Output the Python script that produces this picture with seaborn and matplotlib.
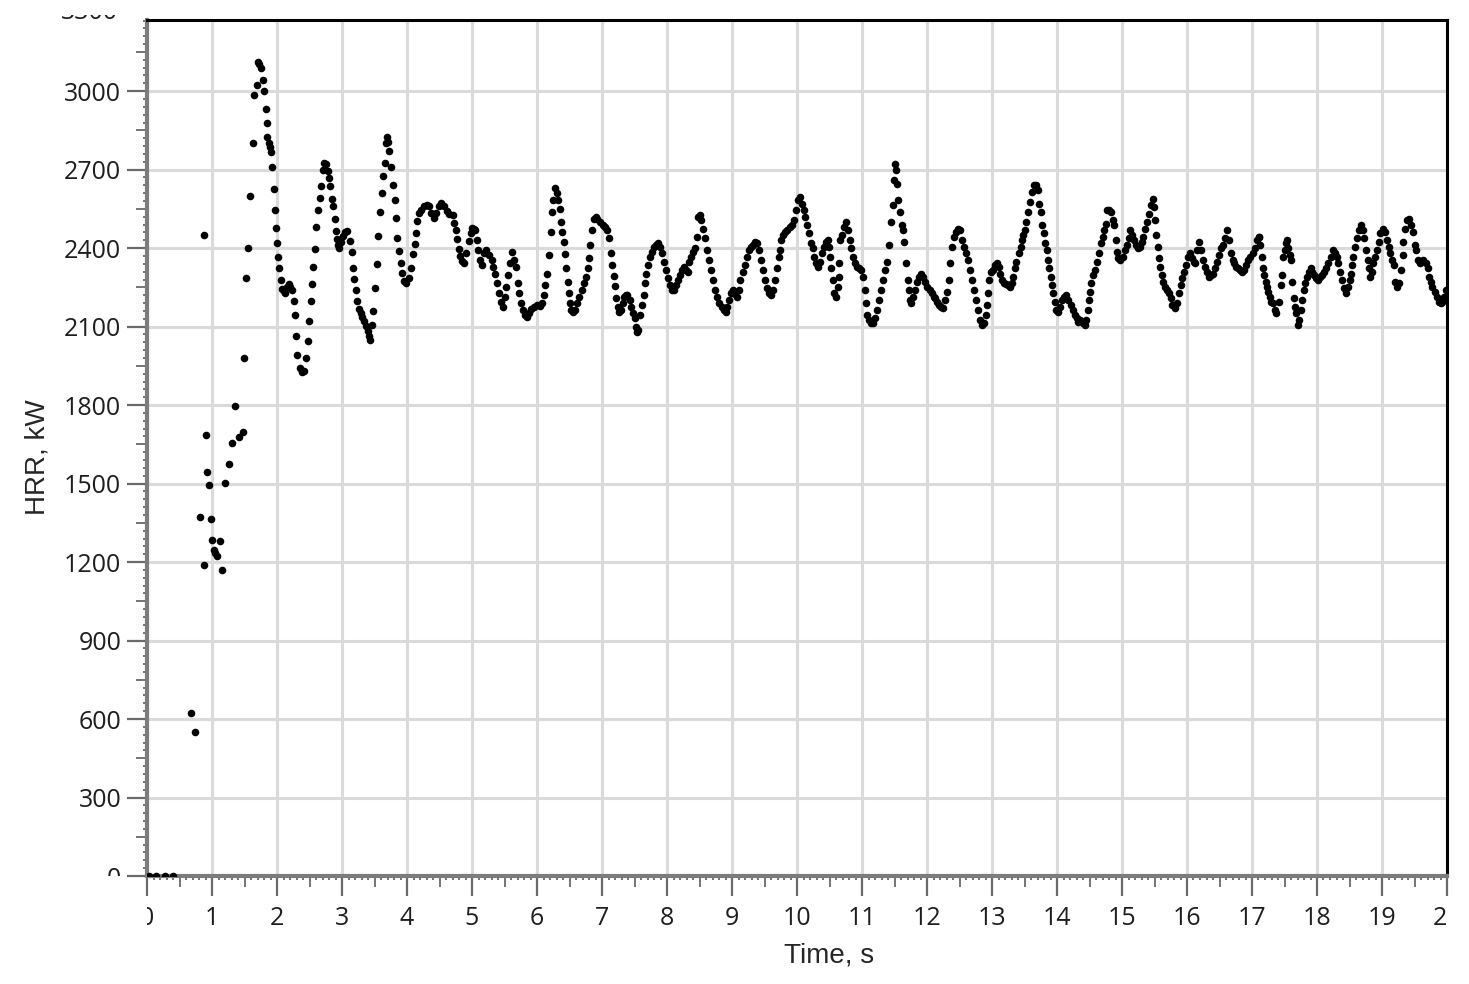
import matplotlib
matplotlib.use("Agg")
import pandas as pd
import matplotlib.pyplot as plt
import seaborn as sns
from matplotlib.ticker import MultipleLocator, FixedLocator
from matplotlib.transforms import Bbox, TransformedBbox, blended_transform_factory

# HRR readings (kW) against time (s), in segments
t_ignition = [0.03, 0.14, 0.27, 0.40, 0.67, 0.74, 0.81,
              0.88, 0.88, 0.91, 0.93, 0.96, 0.98, 1.00, 1.03, 1.05, 1.08,
              1.13, 1.16, 1.20, 1.26, 1.31, 1.36, 1.42, 1.47]
hrr_ignition = [0, 0, 0, 0, 624, 552, 1372,
                2452, 1189, 1686, 1543, 1495, 1363, 1286, 1245, 1235, 1225,
                1282, 1170, 1503, 1573, 1654, 1797, 1677, 1697]

t_peak = [1.49, 1.52, 1.55, 1.59, 1.63, 1.65, 1.69, 1.71, 1.73, 1.75,
          1.78, 1.80, 1.83, 1.84, 1.85, 1.87, 1.89, 1.91, 1.93, 1.95,
          1.97, 1.98, 2.00, 2.02, 2.03, 2.06, 2.08, 2.10, 2.13, 2.15,
          2.18, 2.20, 2.23, 2.26, 2.27, 2.29, 2.31, 2.35, 2.38, 2.41,
          2.44, 2.47, 2.49, 2.52, 2.54, 2.56, 2.58, 2.60, 2.63, 2.66,
          2.68, 2.71, 2.73, 2.76, 2.78, 2.80, 2.82, 2.84, 2.86, 2.89,
          2.91, 2.92, 2.94, 2.96, 2.98, 3.01, 3.05, 3.08, 3.12, 3.15,
          3.17, 3.19, 3.21, 3.23, 3.26, 3.29, 3.31, 3.34, 3.37, 3.40,
          3.42, 3.43, 3.46, 3.48, 3.51, 3.54, 3.56, 3.58, 3.61, 3.63,
          3.66, 3.68, 3.69, 3.71, 3.73, 3.75, 3.79, 3.81, 3.83, 3.85,
          3.88, 3.90, 3.93, 3.95, 3.99, 4.03, 4.06, 4.09, 4.12, 4.14,
          4.16, 4.19, 4.22, 4.26, 4.30, 4.34, 4.37, 4.41, 4.45, 4.49,
          4.53, 4.57, 4.61, 4.65, 4.70, 4.72, 4.75, 4.77, 4.80, 4.82,
          4.85, 4.87, 4.91, 4.95, 4.98, 5.00]
hrr_peak = [1980, 2285, 2401, 2598, 2801, 2985, 3025, 3113, 3105, 3090,
            3042, 3000, 2932, 2877, 2824, 2803, 2788, 2769, 2712, 2626,
            2545, 2476, 2418, 2367, 2324, 2278, 2245, 2235, 2230, 2250,
            2262, 2250, 2240, 2198, 2144, 2065, 1992, 1941, 1926, 1932,
            1979, 2046, 2120, 2198, 2262, 2329, 2397, 2481, 2545, 2592,
            2636, 2697, 2725, 2722, 2693, 2668, 2638, 2589, 2560, 2512,
            2465, 2433, 2411, 2401, 2423, 2448, 2461, 2465, 2427, 2386,
            2325, 2281, 2240, 2198, 2167, 2152, 2136, 2123, 2104, 2085,
            2065, 2050, 2106, 2160, 2248, 2338, 2446, 2537, 2611, 2674,
            2727, 2801, 2824, 2807, 2773, 2712, 2642, 2585, 2515, 2439,
            2389, 2344, 2306, 2274, 2268, 2287, 2325, 2376, 2414, 2458,
            2503, 2534, 2547, 2560, 2566, 2560, 2534, 2515, 2534, 2560,
            2572, 2560, 2541, 2532, 2528, 2496, 2471, 2433, 2395, 2370,
            2351, 2345, 2382, 2427, 2458, 2477]

t_mid = [5.03, 5.05, 5.07, 5.09, 5.12, 5.16, 5.19, 5.22, 5.26, 5.30,
         5.33, 5.36, 5.39, 5.42, 5.45, 5.47, 5.51, 5.53, 5.55, 5.58,
         5.61, 5.64, 5.67, 5.70, 5.73, 5.76, 5.79, 5.82, 5.85, 5.88,
         5.91, 5.95, 6.00, 6.04, 6.07, 6.10, 6.12, 6.15, 6.18, 6.21,
         6.23, 6.25, 6.27, 6.30, 6.33, 6.35, 6.37, 6.39, 6.41, 6.43,
         6.45, 6.47, 6.49, 6.51, 6.53, 6.56, 6.59, 6.62, 6.65, 6.69,
         6.72, 6.75, 6.78, 6.80, 6.82, 6.84, 6.87, 6.90, 6.93, 6.97,
         7.01, 7.04, 7.08, 7.11, 7.14, 7.16, 7.18, 7.20, 7.22, 7.24,
         7.26, 7.29, 7.32, 7.34, 7.37, 7.39, 7.43, 7.45, 7.47, 7.50,
         7.52, 7.54, 7.56, 7.59, 7.62, 7.64, 7.66, 7.68, 7.71, 7.74,
         7.77, 7.80, 7.83, 7.86, 7.89, 7.92, 7.95, 7.98, 8.01, 8.04,
         8.07, 8.11, 8.14, 8.17, 8.20, 8.23, 8.26, 8.29, 8.32, 8.34,
         8.37, 8.40, 8.43, 8.46, 8.48, 8.51, 8.53, 8.56, 8.59, 8.62,
         8.65, 8.68, 8.71, 8.74, 8.77, 8.80, 8.84, 8.87, 8.90, 8.93,
         8.96, 8.99]
hrr_mid = [2475, 2468, 2430, 2392, 2354, 2335, 2380, 2392, 2373, 2354,
           2329, 2303, 2265, 2227, 2195, 2176, 2214, 2253, 2297, 2342,
           2386, 2354, 2329, 2265, 2227, 2189, 2164, 2145, 2138, 2151,
           2166, 2176, 2183, 2179, 2189, 2221, 2259, 2303, 2373, 2462,
           2539, 2583, 2631, 2611, 2583, 2551, 2500, 2462, 2424, 2377,
           2323, 2272, 2227, 2189, 2164, 2157, 2164, 2189, 2214, 2240,
           2265, 2291, 2323, 2361, 2411, 2469, 2513, 2520, 2513, 2500,
           2488, 2481, 2469, 2437, 2380, 2335, 2293, 2255, 2208, 2176,
           2157, 2164, 2189, 2214, 2221, 2221, 2202, 2176, 2151, 2132,
           2100, 2081, 2087, 2145, 2183, 2221, 2265, 2303, 2335, 2367,
           2386, 2405, 2411, 2418, 2405, 2380, 2348, 2316, 2284, 2259,
           2240, 2240, 2259, 2278, 2297, 2316, 2329, 2316, 2310, 2348,
           2367, 2386, 2399, 2443, 2520, 2526, 2507, 2475, 2437, 2392,
           2354, 2316, 2278, 2240, 2214, 2189, 2176, 2164, 2157, 2176,
           2202, 2227]

t_late = [9.01, 9.04, 9.07, 9.10, 9.13, 9.17, 9.20, 9.23, 9.26, 9.29,
          9.32, 9.35, 9.38, 9.41, 9.44, 9.47, 9.50, 9.54, 9.57, 9.60,
          9.63, 9.66, 9.69, 9.72, 9.74, 9.76, 9.79, 9.82, 9.85, 9.89,
          9.92, 9.95, 9.98, 10.01, 10.04, 10.07, 10.10, 10.13, 10.16, 10.19,
          10.21, 10.24, 10.26, 10.29, 10.32, 10.35, 10.38, 10.41, 10.44, 10.47,
          10.49, 10.51, 10.53, 10.55, 10.57, 10.60, 10.63, 10.64, 10.65, 10.66,
          10.69, 10.72, 10.75, 10.78, 10.81, 10.83, 10.86, 10.89, 10.92, 10.96,
          10.99, 11.02, 11.04, 11.06, 11.08, 11.11, 11.14, 11.17, 11.20, 11.23,
          11.26, 11.29, 11.32, 11.35, 11.38, 11.41, 11.44, 11.47, 11.49, 11.50,
          11.52, 11.54, 11.56, 11.59, 11.61, 11.63, 11.65, 11.68, 11.70, 11.72,
          11.74, 11.76, 11.79, 11.82, 11.85, 11.88, 11.91, 11.94, 11.97, 12.00,
          12.04, 12.07, 12.10, 12.13, 12.16, 12.19, 12.22, 12.25, 12.28, 12.31,
          12.34, 12.36, 12.39, 12.41, 12.44, 12.48, 12.51, 12.54, 12.57, 12.60,
          12.63, 12.66, 12.69, 12.72, 12.76, 12.79, 12.82, 12.85, 12.88, 12.90,
          12.92, 12.94, 12.96, 12.98]
hrr_late = [2240, 2225, 2214, 2240, 2278, 2310, 2335, 2367, 2392, 2405,
            2411, 2424, 2418, 2392, 2354, 2316, 2278, 2246, 2227, 2221,
            2240, 2278, 2323, 2367, 2392, 2431, 2450, 2462, 2469, 2479,
            2488, 2507, 2545, 2583, 2596, 2570, 2545, 2520, 2488, 2456,
            2418, 2399, 2367, 2342, 2329, 2348, 2380, 2405, 2424, 2431,
            2405, 2367, 2323, 2278, 2227, 2214, 2253, 2291, 2342, 2431,
            2450, 2481, 2500, 2469, 2431, 2399, 2367, 2342, 2329, 2323,
            2316, 2291, 2240, 2189, 2145, 2126, 2113, 2113, 2132, 2164,
            2202, 2240, 2278, 2316, 2348, 2411, 2500, 2564, 2659, 2723,
            2697, 2647, 2583, 2539, 2488, 2469, 2424, 2342, 2278, 2240,
            2202, 2189, 2214, 2240, 2272, 2291, 2303, 2291, 2272, 2253,
            2240, 2227, 2214, 2208, 2195, 2183, 2176, 2170, 2202, 2234,
            2278, 2342, 2405, 2443, 2462, 2475, 2469, 2431, 2405, 2380,
            2354, 2316, 2278, 2240, 2202, 2164, 2126, 2106, 2113, 2145,
            2183, 2227, 2278, 2310]

t_steady = [13.01, 13.04, 13.07, 13.10, 13.13, 13.16, 13.19, 13.22, 13.25, 13.28,
            13.31, 13.33, 13.35, 13.37, 13.41, 13.44, 13.46, 13.48, 13.51, 13.53,
            13.56, 13.59, 13.62, 13.65, 13.68, 13.71, 13.73, 13.75, 13.77, 13.80,
            13.82, 13.84, 13.86, 13.88, 13.90, 13.92, 13.94, 13.97, 13.99, 14.02,
            14.05, 14.08, 14.11, 14.14, 14.17, 14.21, 14.24, 14.27, 14.30, 14.33,
            14.36, 14.40, 14.43, 14.45, 14.47, 14.49, 14.51, 14.53, 14.55, 14.59,
            14.61, 14.64, 14.67, 14.70, 14.73, 14.75, 14.77, 14.80, 14.83, 14.86,
            14.88, 14.90, 14.92, 14.94, 14.97, 15.01, 15.04, 15.07, 15.10, 15.12,
            15.15, 15.18, 15.21, 15.24, 15.27, 15.30, 15.33, 15.35, 15.39, 15.42,
            15.45, 15.47, 15.49, 15.51, 15.53, 15.55, 15.57, 15.59, 15.61, 15.63,
            15.66, 15.69, 15.72, 15.75, 15.77, 15.81, 15.84, 15.87, 15.90, 15.93,
            15.96, 15.99, 16.02, 16.04, 16.07, 16.10, 16.13, 16.16, 16.19, 16.22,
            16.25, 16.28, 16.31, 16.34, 16.37, 16.40, 16.43, 16.46, 16.49, 16.52,
            16.55, 16.59, 16.62, 16.64, 16.67, 16.70, 16.73, 16.76, 16.79, 16.82,
            16.85, 16.88, 16.91, 16.94, 16.97, 17.01, 17.04, 17.07, 17.10]
hrr_steady = [2316, 2335, 2342, 2329, 2303, 2278, 2265, 2263, 2259, 2253,
              2265, 2291, 2323, 2348, 2380, 2405, 2431, 2450, 2469, 2500,
              2539, 2577, 2615, 2640, 2640, 2621, 2570, 2539, 2488, 2456,
              2418, 2392, 2354, 2323, 2291, 2259, 2227, 2195, 2164, 2157,
              2176, 2202, 2214, 2221, 2202, 2183, 2164, 2145, 2132, 2119,
              2126, 2113, 2106, 2126, 2164, 2202, 2234, 2265, 2297, 2316,
              2348, 2380, 2418, 2443, 2469, 2494, 2545, 2545, 2539, 2507,
              2488, 2431, 2386, 2361, 2354, 2367, 2392, 2411, 2437, 2469,
              2450, 2431, 2411, 2399, 2405, 2424, 2443, 2475, 2500, 2532,
              2564, 2589, 2558, 2507, 2450, 2405, 2361, 2329, 2297, 2272,
              2253, 2240, 2227, 2208, 2183, 2170, 2189, 2227, 2259, 2284,
              2310, 2335, 2367, 2380, 2361, 2348, 2342, 2392, 2424, 2392,
              2354, 2329, 2310, 2291, 2297, 2303, 2323, 2348, 2373, 2399,
              2411, 2437, 2469, 2431, 2380, 2354, 2342, 2329, 2323, 2316,
              2310, 2316, 2335, 2354, 2367, 2380, 2399, 2431, 2443]

t_end = [17.11, 17.13, 17.15, 17.17, 17.19, 17.21, 17.23, 17.25, 17.27, 17.29,
         17.32, 17.35, 17.37, 17.41, 17.44, 17.46, 17.48, 17.50, 17.52, 17.54,
         17.56, 17.58, 17.60, 17.62, 17.64, 17.66, 17.68, 17.71, 17.73, 17.75,
         17.77, 17.80, 17.82, 17.84, 17.87, 17.90, 17.93, 17.96, 17.99, 18.02,
         18.05, 18.08, 18.11, 18.14, 18.17, 18.21, 18.24, 18.27, 18.30, 18.33,
         18.36, 18.39, 18.42, 18.45, 18.48, 18.50, 18.52, 18.54, 18.56, 18.59,
         18.61, 18.64, 18.67, 18.70, 18.73, 18.76, 18.78, 18.80, 18.82, 18.84,
         18.86, 18.89, 18.92, 18.95, 18.97, 19.01, 19.04, 19.07, 19.10, 19.12,
         19.15, 19.18, 19.20, 19.23, 19.26, 19.29, 19.32, 19.33, 19.35, 19.39,
         19.42, 19.45, 19.48, 19.51, 19.53, 19.56, 19.59, 19.63, 19.67, 19.70,
         19.73, 19.75, 19.77, 19.81, 19.84, 19.87, 19.90, 19.93, 19.96, 19.98]
hrr_end = [2441, 2411, 2367, 2323, 2297, 2272, 2253, 2234, 2214, 2195,
           2189, 2164, 2151, 2195, 2259, 2297, 2367, 2392, 2418, 2431,
           2399, 2373, 2354, 2272, 2208, 2176, 2151, 2106, 2126, 2164,
           2202, 2240, 2265, 2291, 2310, 2323, 2310, 2297, 2284, 2278,
           2291, 2297, 2310, 2323, 2342, 2367, 2392, 2380, 2367, 2342,
           2310, 2278, 2246, 2227, 2253, 2278, 2303, 2335, 2367, 2405,
           2437, 2469, 2488, 2469, 2437, 2392, 2354, 2323, 2291, 2310,
           2342, 2367, 2392, 2424, 2456, 2475, 2462, 2431, 2405, 2380,
           2354, 2335, 2272, 2253, 2265, 2316, 2373, 2424, 2475, 2507,
           2513, 2488, 2462, 2411, 2392, 2354, 2342, 2354, 2342, 2323,
           2291, 2272, 2253, 2234, 2214, 2195, 2189, 2195, 2214, 2240]

x_ticks = list(range(0, 21))
y_ticks = list(range(0, 3001, 300))

hrr_data = pd.DataFrame({
    "Time, s": t_ignition + t_peak + t_mid + t_late + t_steady + t_end,
    "HRR, kW": hrr_ignition + hrr_peak + hrr_mid + hrr_late + hrr_steady + hrr_end,
})

sns.set_style("white")
plt.rcParams["font.family"] = ["Open Sans", "DejaVu Sans"]

fig = plt.figure(figsize=(14.69, 9.84), dpi=100)
ax = fig.add_axes([147 / 1469, 1 - 876 / 984, 1300 / 1469, 856 / 984])

sns.scatterplot(data=hrr_data, x="Time, s", y="HRR, kW", color="black",
                s=30, linewidth=0, ax=ax, zorder=3)

ax.set_xlim(0, 20)
ax.set_ylim(0, 3272)
ax.xaxis.set_major_locator(FixedLocator(x_ticks))
ax.yaxis.set_major_locator(FixedLocator(y_ticks))
ax.xaxis.set_minor_locator(MultipleLocator(0.1))
ax.yaxis.set_minor_locator(MultipleLocator(30))
ax.set_xticklabels([str(v) for v in x_ticks])
ax.set_yticklabels([str(v) for v in y_ticks])

ax.grid(True, which="major", color="#dadada", linewidth=2.2)
ax.set_axisbelow(True)

for side in ["left", "bottom"]:
    ax.spines[side].set_color("#7c7c7c")
    ax.spines[side].set_linewidth(3)
for side in ["top", "right"]:
    ax.spines[side].set_color("black")
    ax.spines[side].set_linewidth(2.2)

ax.tick_params(which="both", bottom=True, left=True, top=False, right=False)
ax.tick_params(which="major", direction="out", length=14.5, width=1.6,
               color="#6a6a6a", labelsize=18, labelcolor="#1e1e1e", pad=4)
ax.tick_params(axis="x", which="major", pad=7)
ax.tick_params(which="minor", direction="out", length=3.2, width=1.3,
               color="#6a6a6a")

ax.set_xlabel("Time, s", fontsize=20, family="Liberation Sans")
ax.set_ylabel("HRR, kW", fontsize=20, family="Liberation Sans")
ax.xaxis.label.set_va("center")
ax.yaxis.label.set_va("center")
ax.xaxis.set_label_coords(0.525, -0.0925)
ax.yaxis.set_label_coords(-0.0846, 0.4895)

# the partly hidden top label of the y axis
top_label = ax.text(-0.0225, 3300, "3300", fontsize=18, color="#1e1e1e",
                    ha="right", va="center",
                    transform=blended_transform_factory(ax.transAxes, ax.transData))
top_label.set_clip_path(None)
top_label.set_clip_box(TransformedBbox(Bbox([[-1, 0], [1, 1.006]]), ax.transAxes))
top_label.set_clip_on(True)

fig.canvas.draw()

# medium ticks at the half steps
for tick in ax.xaxis.get_minor_ticks():
    loc = tick.get_loc()
    if abs(loc * 2 - round(loc * 2)) < 1e-6:
        tick.tick1line.set_markersize(8)
for tick in ax.yaxis.get_minor_ticks():
    loc = tick.get_loc()
    if abs(loc / 150 - round(loc / 150)) < 1e-6:
        tick.tick1line.set_markersize(8)

# tick labels are cut at the ends of the axes, as in the original
x_clip = TransformedBbox(Bbox([[0, -1], [1, 1]]), ax.transAxes)
y_clip = TransformedBbox(Bbox([[-1, 0], [1, 1.006]]), ax.transAxes)
for lab in ax.get_xticklabels():
    lab.set_clip_box(x_clip)
    lab.set_clip_on(True)
for lab in ax.get_yticklabels():
    lab.set_clip_box(y_clip)
    lab.set_clip_on(True)

fig.savefig("out.png", dpi=100)
